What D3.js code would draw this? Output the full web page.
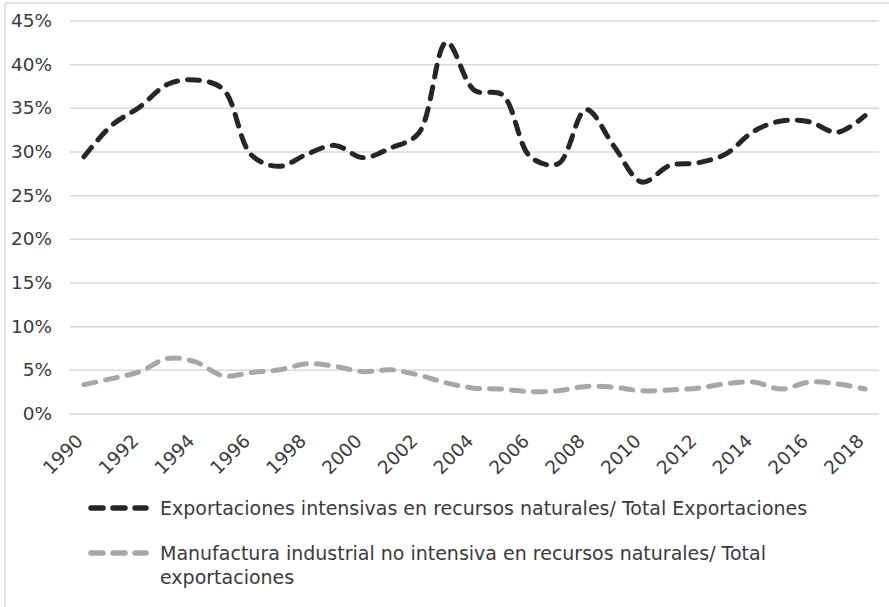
<!DOCTYPE html>
<html>
<head>
<meta charset="utf-8">
<script src="https://cdn.jsdelivr.net/npm/d3@7"></script>
<style>
  html, body { margin: 0; padding: 0; background: #fff; }
  svg { display: block; }
  text { font-family: "DejaVu Sans", sans-serif; fill: #3b3b3b; }
</style>
</head>
<body>
<svg id="chart" width="889" height="607"></svg>
<script>
const years = d3.range(1990, 2019);
const seriesNames = [
  "Exportaciones intensivas en recursos naturales/ Total Exportaciones",
  "Manufactura industrial no intensiva en recursos naturales/ Total exportaciones"
];
const intensivas = [29.4, 33.0, 35.1, 37.7, 38.2, 37.1, 29.6, 28.3, 29.7, 30.7,
                    29.3, 30.4, 32.1, 42.5, 37.0, 36.5, 29.4, 28.6, 34.8, 30.6,
                    26.5, 28.4, 28.7, 29.7, 32.3, 33.5, 33.4, 32.2, 34.1];
const noIntensiva = [3.3, 4.0, 4.8, 6.3, 5.9, 4.3, 4.7, 5.0, 5.7, 5.4,
                     4.8, 5.0, 4.4, 3.5, 2.9, 2.8, 2.5, 2.6, 3.1, 3.0,
                     2.6, 2.7, 2.9, 3.4, 3.6, 2.8, 3.6, 3.4, 2.8];
const yTicks = [0, 5, 10, 15, 20, 25, 30, 35, 40, 45];
const xTickLabels = years.filter(y => y % 2 === 0);

const FONT = '"DejaVu Sans", sans-serif';
const svg = d3.select("#chart");

// frame lines (top and left)
svg.append("line").attr("x1", 5).attr("x2", 889).attr("y1", 3).attr("y2", 3)
  .attr("stroke", "#d9d9d9").attr("stroke-width", 1.5);
svg.append("line").attr("x1", 5).attr("x2", 5).attr("y1", 3).attr("y2", 607)
  .attr("stroke", "#d9d9d9").attr("stroke-width", 1.5);

const x = d3.scalePoint().domain(years).range([70, 879]).padding(0.5);
const y = d3.scaleLinear().domain([0, 45]).range([413.5, 20.5]);

// grid + y labels
const yAxis = d3.axisLeft(y).tickValues(yTicks).tickSize(-(879 - 70)).tickPadding(18)
  .tickFormat(d => d + "%");
const gy = svg.append("g").attr("transform", "translate(70,0)").call(yAxis);
gy.select(".domain").remove();
gy.selectAll(".tick line").attr("stroke", "#d9d9d9").attr("stroke-width", 1.5);
gy.selectAll(".tick text").attr("font-size", 18.5).attr("fill", "#3b3b3b")
  .style("font-family", FONT);

// x labels
const xAxis = d3.axisBottom(x).tickValues(xTickLabels).tickSize(0).tickPadding(0);
const gx = svg.append("g").attr("transform", "translate(0,413.5)").call(xAxis);
gx.select(".domain").remove();
gx.selectAll(".tick text")
  .attr("font-size", 18.5).attr("fill", "#3b3b3b")
  .style("font-family", FONT)
  .attr("text-anchor", "end")
  .attr("dy", null).attr("y", 0)
  .attr("transform", "translate(-5,24) rotate(-45)")
  .attr("dominant-baseline", "central");

const line = d3.line()
  .x((d, i) => x(years[i]))
  .y(d => y(d))
  .curve(d3.curveCatmullRom.alpha(0.5));

const styles = [
  { data: intensivas, color: "#262626" },
  { data: noIntensiva, color: "#a8a6a6" }
];

styles.slice().reverse().forEach(s => {
  svg.append("path").datum(s.data)
    .attr("d", line)
    .attr("fill", "none")
    .attr("stroke", s.color)
    .attr("stroke-width", 5)
    .attr("stroke-dasharray", "12,10")
    .attr("stroke-linecap", "round");
});

// legend
const legend = svg.append("g");
const legendRows = [
  { y: 508, lines: [seriesNames[0]] },
  { y: 553, lines: ["Manufactura industrial no intensiva en recursos naturales/ Total", "exportaciones"] }
];
legendRows.forEach((r, i) => {
  legend.append("line")
    .attr("x1", 91).attr("x2", 146).attr("y1", r.y).attr("y2", r.y)
    .attr("stroke", styles[i].color).attr("stroke-width", 5.5)
    .attr("stroke-dasharray", "12,10").attr("stroke-linecap", "round");
  r.lines.forEach((t, j) => {
    legend.append("text")
      .attr("x", 160).attr("y", r.y + j * 24)
      .attr("dominant-baseline", "central")
      .attr("font-size", 19)
      .text(t);
  });
});
</script>
</body>
</html>
